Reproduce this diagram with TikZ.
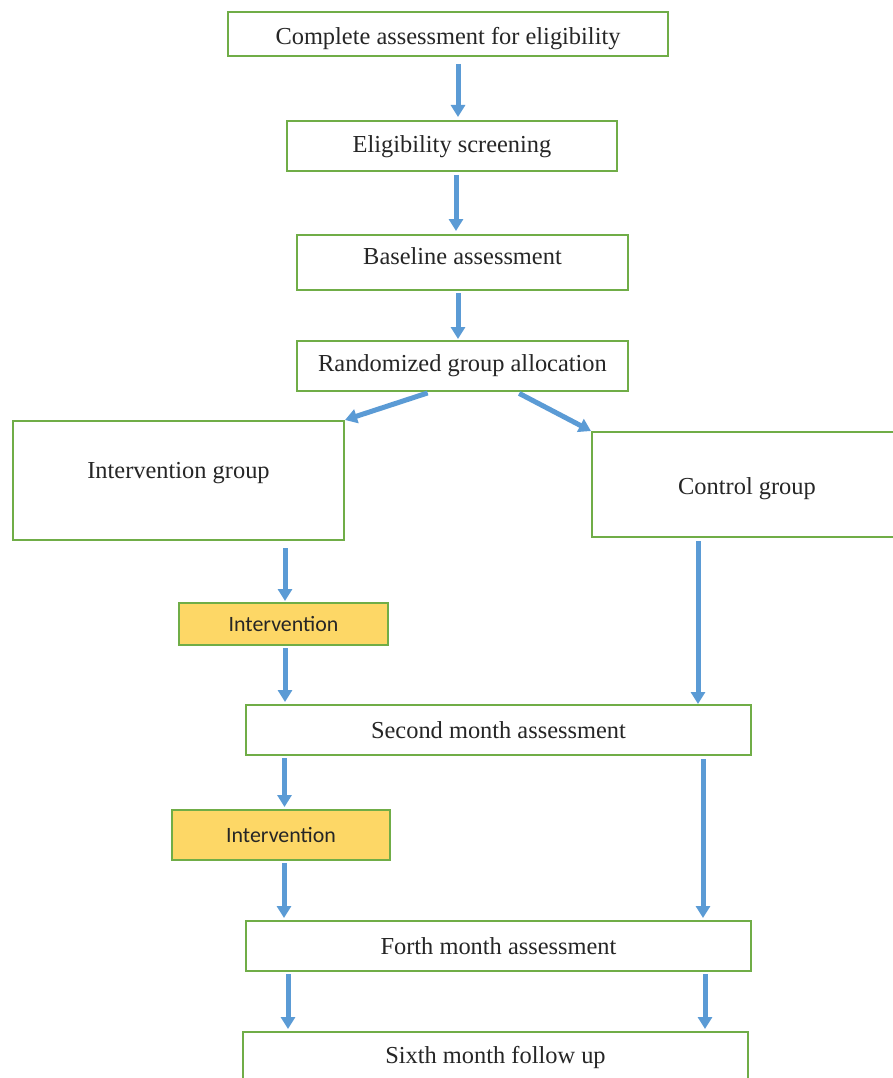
\documentclass[tikz,border=0pt]{standalone}
\usepackage{fontspec}
\setmainfont{Liberation Serif}
\newfontfamily\calibri{Carlito}
\usetikzlibrary{arrows.meta}
\definecolor{boxgreen}{HTML}{70AD47}
\definecolor{flowblue}{HTML}{5B9BD5}
\definecolor{treatyellow}{HTML}{FDD766}
\tikzset{
  box/.style={draw=boxgreen, line width=2pt, fill=white, inner sep=0pt,
    text=black!85, font=\fontsize{24.4}{29}\selectfont},
  treat/.style={box, fill=treatyellow, font=\calibri\fontsize{21.9}{26}\selectfont},
  flow/.style={draw=flowblue, line width=5pt, -{Triangle[width=14pt,length=12pt]}},
}
\begin{document}
\begin{tikzpicture}[x=1pt,y=-1pt]

\fill[white] (0,0) rectangle (893,1078);
\useasboundingbox (0,0) rectangle (893,1078);
\clip (0,0) rectangle (893,1078);

% stages
\node[box, minimum width=440pt, minimum height=44pt,
      text height=27pt, text depth=6pt] (full) at (448,34)
  {Complete assessment for eligibility};
\node[box, minimum width=330pt, minimum height=50pt,
      text height=20pt, text depth=6pt] (elig) at (452,146)
  {Eligibility screening};
\node[box, minimum width=331pt, minimum height=55pt,
      text height=17pt, text depth=14pt] (base) at (462.5,262.5)
  {Baseline assessment};
\node[box, minimum width=331pt, minimum height=50pt] (rand) at (462.5,366)
  {Randomized group allocation};

% the two arms
\node[box, minimum width=331pt, minimum height=119pt,
      text height=17pt, text depth=22pt] (ig) at (178.5,480.5)
  {Intervention group};
\node[box, minimum width=310pt, minimum height=105pt,
      text height=25pt, text depth=6pt] (ctrl) at (747,484.5)
  {Control group};

% follow up
\node[treat, minimum width=209pt, minimum height=42pt] (int1) at (283.5,624)
  {Intervention};
\node[box, minimum width=505pt, minimum height=50pt] (sec) at (498.5,730)
  {Second month assessment};
\node[treat, minimum width=218pt, minimum height=50pt] (int2) at (281,835)
  {Intervention};
\node[box, minimum width=505pt, minimum height=50pt] (forth) at (498.5,946)
  {Forth month assessment};
\node[box, minimum width=505pt, minimum height=50pt] (sixth) at (495.5,1057)
  {Sixth month follow up};

% arrows
\draw[flow, shorten <=7pt, shorten >=3pt] ([xshift=10pt]full.south) -- ([xshift=6pt]elig.north);
\draw[flow, shorten <=3pt, shorten >=3pt] ([xshift=4pt]elig.south) -- ([xshift=-6.5pt]base.north);
\draw[flow, shorten <=2pt, shorten >=1pt] ([xshift=-4.5pt]base.south) -- ([xshift=-4.5pt]rand.north);
\draw[flow, shorten <=3pt] ([xshift=-32pt]rand.south) -- (ig.north east);
\draw[flow, shorten <=3pt] ([xshift=54pt]rand.south) -- (ctrl.north west);

\draw[flow, shorten <=7pt, shorten >=1pt] ([xshift=1.5pt]int1.north |- ig.south) -- ([xshift=1.5pt]int1.north);
\draw[flow, shorten <=2pt, shorten >=2pt] ([xshift=1.5pt]int1.south) -- ([xshift=1.5pt]int1.south |- sec.north);
\draw[flow, shorten <=3pt, shorten >=0pt] ([xshift=-49pt]ctrl.south) -- ([xshift=-49pt]ctrl.south |- sec.north);

\draw[flow, shorten <=2pt, shorten >=2pt] ([xshift=3.5pt]int2.north |- sec.south) -- ([xshift=3.5pt]int2.north);
\draw[flow, shorten <=2pt, shorten >=2pt] ([xshift=3pt]int2.south) -- ([xshift=3pt]int2.south |- forth.north);
\draw[flow, shorten <=3pt, shorten >=2pt] ([xshift=204.5pt]sec.south) -- ([xshift=204.5pt]sec.south |- forth.north);

\draw[flow, shorten <=2pt, shorten >=2pt] ([xshift=-210.5pt]forth.south) -- ([xshift=-210.5pt]forth.south |- sixth.north);
\draw[flow, shorten <=2pt, shorten >=2pt] ([xshift=206.5pt]forth.south) -- ([xshift=206.5pt]forth.south |- sixth.north);
\end{tikzpicture}
\end{document}
